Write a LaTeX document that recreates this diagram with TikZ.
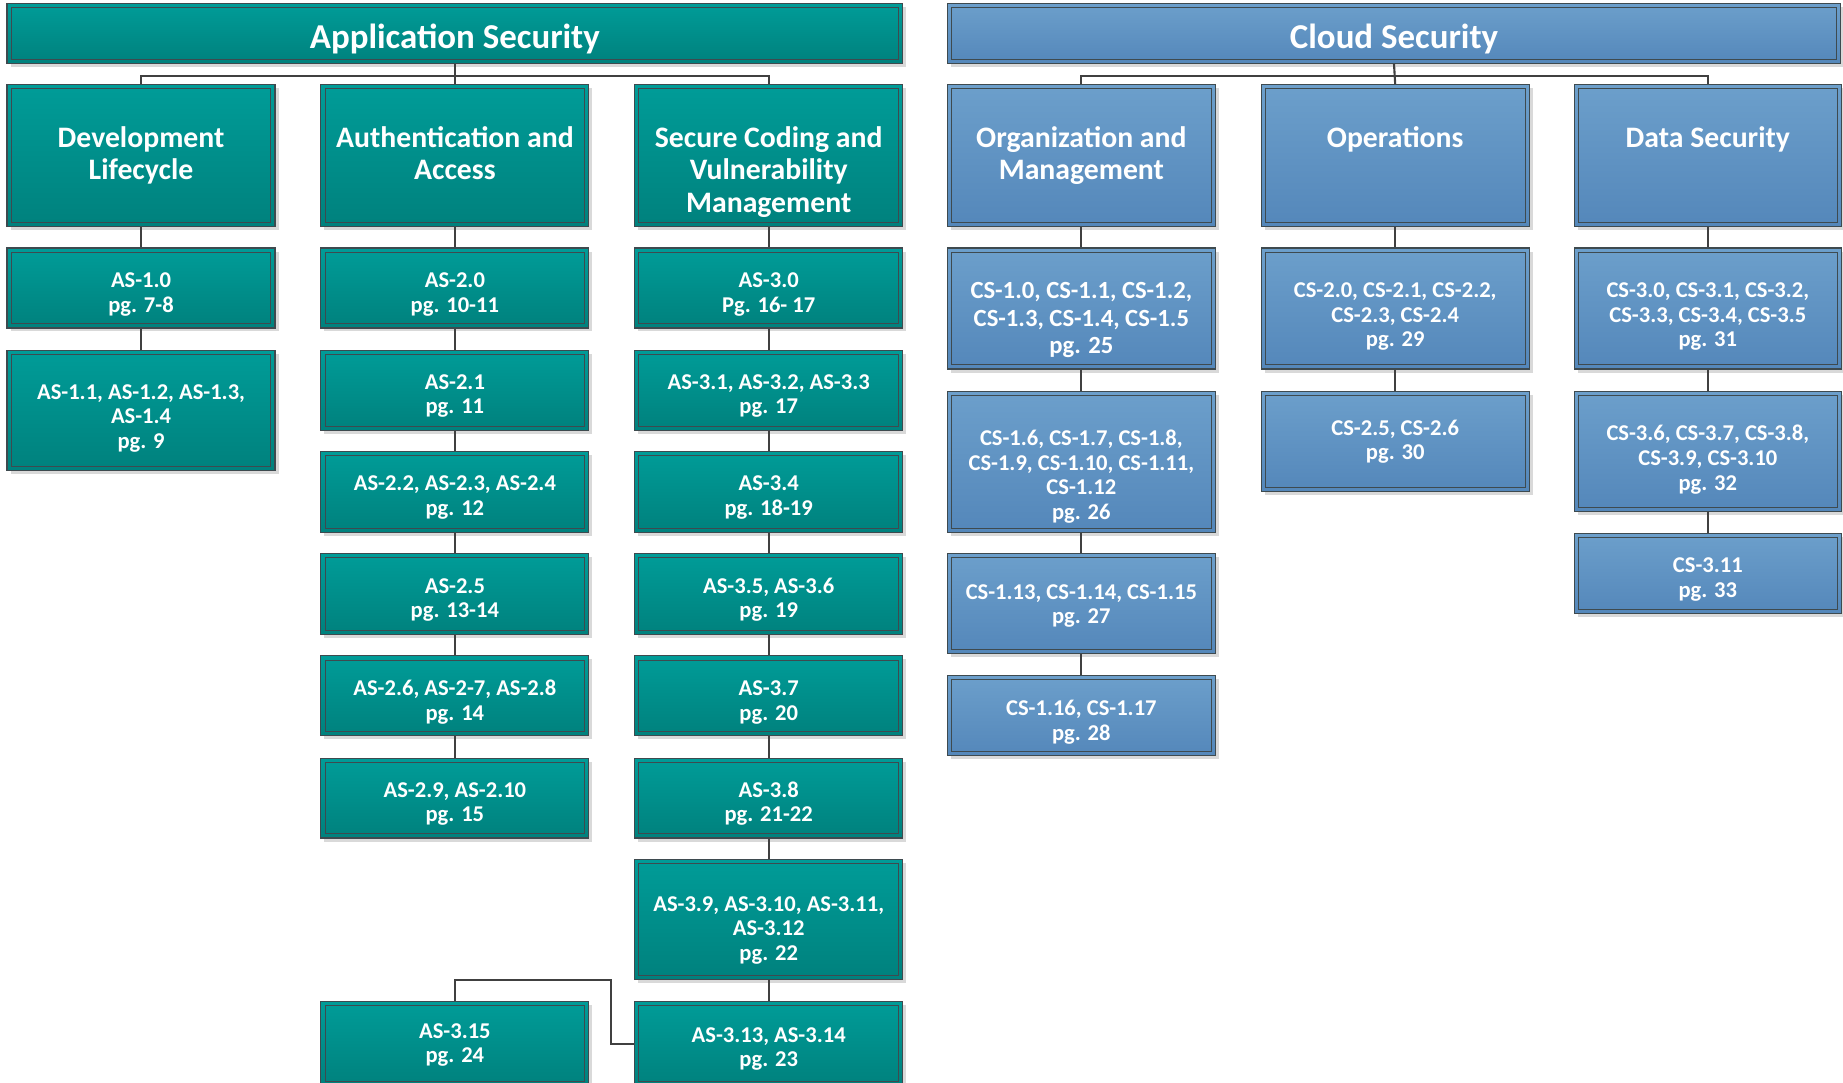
\documentclass[tikz,border=0pt]{standalone}
\usepackage{fontspec}
\setmainfont{Carlito}
\usetikzlibrary{shadows,calc}
\definecolor{tealtop}{HTML}{009C98}
\definecolor{tealbot}{HTML}{00817D}
\definecolor{bluetop}{HTML}{6C9FCB}
\definecolor{bluebot}{HTML}{5487BA}
\definecolor{framecol}{HTML}{3E4A4F}
\definecolor{shadowcol}{HTML}{D9D9D9}
\definecolor{linecol}{HTML}{404040}
\newcommand{\fsHead}{\fontsize{29.7}{33}\selectfont\bfseries}
\newcommand{\fsCat}{\fontsize{25.3}{27.5}\selectfont\bfseries}
\newcommand{\fsItem}{\fontsize{19.2}{21}\selectfont\bfseries}
\newcommand{\fsItemL}{\fontsize{21}{23.5}\selectfont\bfseries}
% lowers a node's text block by #1 (pt) via a tall strut on its first line
\newcommand{\sh}[1]{\rule{0pt}{\dimexpr 12.5pt+#1pt*2\relax}}
\tikzset{
  boxbase/.style={draw=framecol, line width=1pt, inner sep=0pt, text=white, align=center,
    drop shadow={shadow xshift=3pt, shadow yshift=-3pt, fill=shadowcol, opacity=1},
    path picture={\draw[framecol, line width=0.8pt]
      ([shift={(3.5pt,3.5pt)}]path picture bounding box.south west) rectangle
      ([shift={(-3.5pt,-3.5pt)}]path picture bounding box.north east);}},
  tealbox/.style={boxbase, top color=tealtop, bottom color=tealbot},
  bluebox/.style={boxbase, top color=bluetop, bottom color=bluebot},
  headbox/.style={minimum height=51pt, font=\fsHead, execute at begin node={\rule{0pt}{30.5pt}}},
  catbox/.style={minimum width=228pt, minimum height=121pt},
  itembox/.style={minimum width=228pt, font=\fsItem},
  cattext/.style={anchor=north, yshift=-36pt, text=white, align=center, font=\fsCat, inner sep=0pt},
  conn/.style={draw=linecol, line width=1.8pt},
}
\begin{document}
\begin{tikzpicture}[x=1pt, y=-1pt]
\useasboundingbox[fill=white] (0,0) rectangle (1568,921);

% ---------- headers ----------
\node[tealbox, headbox, minimum width=762pt] (ash) at (387,28.5) {Application Security};
\node[bluebox, headbox, minimum width=760pt] (csh) at (1186,28.5) {Cloud Security};

% ---------- category boxes ----------
\node[tealbox, catbox] (dev) at (120,132.5) {};
\node[tealbox, catbox] (auth) at (387,132.5) {};
\node[tealbox, catbox] (sec) at (654,132.5) {};
\node[bluebox, catbox] (org) at (920,132.5) {};
\node[bluebox, catbox] (ops) at (1187,132.5) {};
\node[bluebox, catbox, minimum width=227pt] (dat) at (1453,132.5) {};

\node[cattext] (devt) at (dev.north) {Development\\Lifecycle};
\node[cattext] (autht) at (auth.north) {Authentication and\\Access};
\node[cattext] (sect) at (sec.north) {Secure Coding and\\Vulnerability\\Management};
\node[cattext] (orgt) at (org.north) {Organization and\\Management};
\node[cattext] (opst) at (ops.north) {Operations};
\node[cattext] (datt) at (dat.north) {Data Security};

% ---------- connectors header -> categories ----------
\draw[conn] (ash.south) -- (auth.north);
\draw[conn] (dev.north) -- ++(0,-7) -| (sec.north);
\draw[conn] (csh.south) -- (ops.north);
\draw[conn] (org.north) -- ++(0,-7) -| (dat.north);

% ---------- Application Security items ----------
\node[tealbox, itembox, minimum height=68pt] (a10) at (120,245) {\sh{5.5}AS-1.0\\pg. 7-8};
\node[tealbox, itembox, minimum height=102pt] (a11) at (120,349) {\sh{7}AS-1.1, AS-1.2, AS-1.3,\\AS-1.4\\pg. 9};

\node[tealbox, itembox, minimum height=68pt] (a20) at (387,245) {\sh{5.5}AS-2.0\\pg. 10-11};
\node[tealbox, itembox, minimum height=68pt] (a21) at (387,332) {\sh{5}AS-2.1\\pg. 11};
\node[tealbox, itembox, minimum height=69pt] (a22) at (387,418.5) {\sh{5}AS-2.2, AS-2.3, AS-2.4\\pg. 12};
\node[tealbox, itembox, minimum height=69pt] (a25) at (387,505.5) {\sh{5}AS-2.5\\pg. 13-14};
\node[tealbox, itembox, minimum height=68pt] (a26) at (387,592) {\sh{5.5}AS-2.6, AS-2-7, AS-2.8\\pg. 14};
\node[tealbox, itembox, minimum height=68pt] (a29) at (387,679) {\sh{5}AS-2.9, AS-2.10\\pg. 15};

\node[tealbox, itembox, minimum height=68pt] (a30) at (654,245) {\sh{5.5}AS-3.0\\Pg. 16- 17};
\node[tealbox, itembox, minimum height=68pt] (a31) at (654,332) {\sh{5}AS-3.1, AS-3.2, AS-3.3\\pg. 17};
\node[tealbox, itembox, minimum height=69pt] (a34) at (654,418.5) {\sh{5}AS-3.4\\pg. 18-19};
\node[tealbox, itembox, minimum height=69pt] (a35) at (654,505.5) {\sh{5}AS-3.5, AS-3.6\\pg. 19};
\node[tealbox, itembox, minimum height=68pt] (a37) at (654,592) {\sh{5.5}AS-3.7\\pg. 20};
\node[tealbox, itembox, minimum height=68pt] (a38) at (654,679) {\sh{5}AS-3.8\\pg. 21-22};
\node[tealbox, itembox, minimum height=102pt] (a39) at (654,782) {\sh{9.5}AS-3.9, AS-3.10, AS-3.11,\\AS-3.12\\pg. 22};
\node[tealbox, itembox, minimum height=72pt] (a313) at (654,888) {\sh{4.5}AS-3.13, AS-3.14\\pg. 23};
\node[tealbox, itembox, minimum height=72pt] (a315) at (387,888) {\sh{1}AS-3.15\\pg. 24};

\draw[conn] (dev.south) -- (a10.north);
\draw[conn] (a10.south) -- (a11.north);
\draw[conn] (auth.south) -- (a20.north);
\draw[conn] (a20.south) -- (a21.north);
\draw[conn] (a21.south) -- (a22.north);
\draw[conn] (a22.south) -- (a25.north);
\draw[conn] (a25.south) -- (a26.north);
\draw[conn] (a26.south) -- (a29.north);
\draw[conn] (sec.south) -- (a30.north);
\draw[conn] (a30.south) -- (a31.north);
\draw[conn] (a31.south) -- (a34.north);
\draw[conn] (a34.south) -- (a35.north);
\draw[conn] (a35.south) -- (a37.north);
\draw[conn] (a37.south) -- (a38.north);
\draw[conn] (a38.south) -- (a39.north);
\draw[conn] (a39.south) -- (a313.north);
\draw[conn] (a313.west) -- ++(-20,0) |- ([yshift=18pt]a315.north) -- (a315.north);

% ---------- Cloud Security items ----------
\node[bluebox, itembox, minimum height=103pt, font=\fsItemL] (c10) at (920,262.5) {\sh{10.5}CS-1.0, CS-1.1, CS-1.2,\\CS-1.3, CS-1.4, CS-1.5\\pg. 25};
\node[bluebox, itembox, minimum height=120pt] (c16) at (920,393) {\sh{13}CS-1.6, CS-1.7, CS-1.8,\\CS-1.9, CS-1.10, CS-1.11,\\CS-1.12\\pg. 26};
\node[bluebox, itembox, minimum height=85pt] (c113) at (920,513.5) {\sh{2}CS-1.13, CS-1.14, CS-1.15\\pg. 27};
\node[bluebox, itembox, minimum height=68pt] (c116) at (920,609) {\sh{6}CS-1.16, CS-1.17\\pg. 28};

\node[bluebox, itembox, minimum height=103pt] (c20) at (1187,262.5) {\sh{7}CS-2.0, CS-2.1, CS-2.2,\\CS-2.3, CS-2.4\\pg. 29};
\node[bluebox, itembox, minimum height=85pt] (c25) at (1187,375.5) {\sh{0.5}CS-2.5, CS-2.6\\pg. 30};

\node[bluebox, itembox, minimum width=227pt, minimum height=103pt] (c30) at (1453,262.5) {\sh{7}CS-3.0, CS-3.1, CS-3.2,\\CS-3.3, CS-3.4, CS-3.5\\pg. 31};
\node[bluebox, itembox, minimum width=227pt, minimum height=102pt] (c36) at (1453,384) {\sh{7.5}CS-3.6, CS-3.7, CS-3.8,\\CS-3.9, CS-3.10\\pg. 32};
\node[bluebox, itembox, minimum width=227pt, minimum height=68pt] (c311) at (1453,488) {\sh{5}CS-3.11\\pg. 33};

\draw[conn] (org.south) -- (c10.north);
\draw[conn] (c10.south) -- (c16.north);
\draw[conn] (c16.south) -- (c113.north);
\draw[conn] (c113.south) -- (c116.north);
\draw[conn] (ops.south) -- (c20.north);
\draw[conn] (c20.south) -- (c25.north);
\draw[conn] (dat.south) -- (c30.north);
\draw[conn] (c30.south) -- (c36.north);
\draw[conn] (c36.south) -- (c311.north);
\end{tikzpicture}
\end{document}
